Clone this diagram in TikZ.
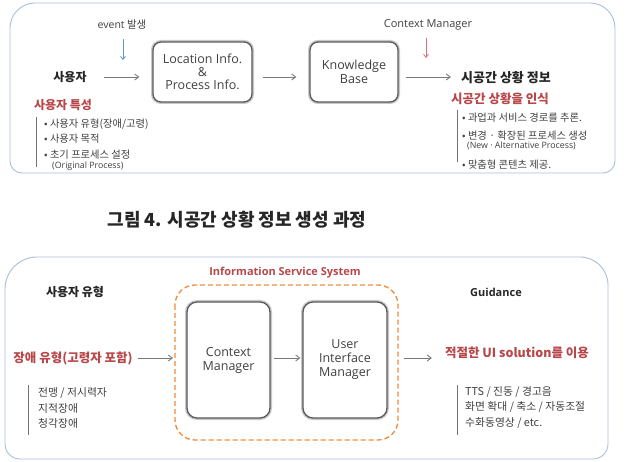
\documentclass[tikz,border=0pt]{standalone}
\usepackage{fontspec}
\setmainfont{Noto Sans CJK KR}
\newfontfamily\lat{Open Sans}
\usetikzlibrary{arrows.meta}
\definecolor{frameblue}{HTML}{A9BEDA}
\definecolor{redt}{HTML}{B8474A}
\definecolor{orangeD}{HTML}{F08A3C}
\definecolor{arrgray}{HTML}{7A7A7A}
\definecolor{evblue}{HTML}{5B9BD5}
\definecolor{cmpink}{HTML}{E07078}
\definecolor{txtgray}{HTML}{3F3F3F}
\tikzset{
  frame/.style={draw=frameblue, line width=0.9pt},
  ibox/.style={draw=black!65, line width=1.3pt, rounded corners=8pt, fill=white,
    preaction={draw=black!22, line width=4pt}, align=center, inner sep=0pt,
    font=\lat\fontsize{12.5}{15}\selectfont, text=black!75},
  arr/.style={draw=arrgray, line width=0.9pt, -{Straight Barb[length=4pt,width=6pt]}},
  head/.style={font=\bfseries\fontsize{12}{13}\selectfont, text=black!85, inner sep=0pt},
  redhead/.style={font=\bfseries\fontsize{12}{13}\selectfont, text=redt, inner sep=0pt},
  item/.style={font=\fontsize{10.3}{11}\selectfont, text=txtgray, inner sep=0pt, anchor=west},
  bitem/.style={font=\fontsize{10.8}{11}\selectfont, text=txtgray, inner sep=0pt, anchor=west},
  vbar/.style={draw=black!55, line width=0.9pt},
}
\begin{document}
\begin{tikzpicture}[x=1pt,y=-1pt]
\useasboundingbox (0,0) rectangle (640,462);
% ---------- top frame ----------
\draw[frame] (10,28) arc[start angle=180,end angle=270,radius=25] -- (590,3)
  arc[start angle=270,end angle=360,radius=25] -- (615,161)
  arc[start angle=0,end angle=90,radius=12] -- (22,173)
  arc[start angle=90,end angle=180,radius=12] -- cycle;

\node[ibox, minimum width=99pt, minimum height=60pt] (loc) at (202.5,72) {Location Info.\\[-2pt]\&\\[-2pt]Process Info.};
\node[ibox, minimum width=88pt, minimum height=60pt] (kb) at (354,72) {Knowledge\\[-1pt]Base};

\node[head] (user) at (70,77) {사용자};
\node[font=\fontsize{10.5}{13}\selectfont, text=black!75, inner sep=0pt] (event) at (122,25) {{\lat event} 발생};
\coordinate (evtip) at (123,60);
\draw[draw=evblue, line width=0.8pt, -{Straight Barb[length=3pt,width=5pt]}] (event.south -| evtip) ++(0,9) -- (evtip);

\node[font=\lat\fontsize{11}{13}\selectfont, text=black!75, inner sep=0pt] (cm) at (428,25) {Context Manager};
\coordinate (cmtip) at (426,58);
\draw[draw=cmpink, line width=0.8pt, -{Straight Barb[length=3pt,width=5pt]}] (cm.south -| cmtip) ++(0,7) -- (cmtip);

\node[head, font=\bfseries\fontsize{13}{14}\selectfont] (info) at (506,78) {시공간 상황 정보};

\draw[arr, shorten <=17pt, shorten >=13pt] (user.east) -- (loc.west |- user.east);
\draw[arr, shorten <=10pt, shorten >=13pt] (loc.east |- user.east) -- (kb.west |- user.east);
\draw[arr, shorten <=7pt, shorten >=10pt] (kb.east |- user.east) -- (info.west |- user.east);

\node[redhead] (trait) at (63,105) {사용자 특성};
\draw[vbar] (36,117) -- (36,167);
\node[item] (t1) at (44,124) {• 사용자 유형(장애/고령)};
\node[item] (t2) at (44,139) {• 사용자 목적};
\node[item] (t3) at (44,155) {• 초기 프로세스 설정};
\node[item, font=\lat\fontsize{8.8}{10}\selectfont] (t4) at (52,166) {(Original Process)};

\node[redhead, font=\bfseries\fontsize{12.5}{14}\selectfont] (recog) at (500,99) {시공간 상황을 인식};
\draw[vbar] (457,110) -- (457,162);
\node[item] (r1) at (462,118) {• 과업과 서비스 경로를 추론.};
\node[item] (r2) at (462,136) {• 변경 · 확장된 프로세스 생성};
\node[item, font=\lat\fontsize{8.8}{10}\selectfont] (r3) at (467,146) {(New · Alternative Process)};
\node[item] (r4) at (462,165) {• 맞춤형 콘텐츠 제공.};

% ---------- caption ----------
\node[font=\bfseries\fontsize{18}{20}\selectfont, text=black!85, inner sep=0pt] (cap) at (237,220) {그림 4. 시공간 상황 정보 생성 과정};

% ---------- bottom frame ----------
\draw[frame] (5,289) arc[start angle=180,end angle=270,radius=32] -- (580,257)
  arc[start angle=270,end angle=360,radius=28] -- (608,444)
  arc[start angle=0,end angle=90,radius=15] -- (20,459)
  arc[start angle=90,end angle=180,radius=15] -- cycle;

\draw[draw=orangeD, line width=1.3pt, dash pattern=on 5pt off 3pt, rounded corners=20pt] (175,285) rectangle (398,440);
\node[font=\lat\bfseries\fontsize{11}{12}\selectfont, text=redt, inner sep=0pt] (iss) at (285,273) {Information Service System};

\node[ibox, rounded corners=10pt, minimum width=83pt, minimum height=116pt] (ctx) at (228.5,360) {Context\\[-1pt]Manager};
\node[ibox, rounded corners=10pt, minimum width=84pt, minimum height=116pt] (uim) at (345,360) {User\\[-1pt]Interface\\[-1pt]Manager};

\node[head] (utype) at (75,292) {사용자 유형};
\node[redhead, font=\bfseries\fontsize{12.5}{14}\selectfont] (dtype) at (73,358) {장애 유형(고령자 포함)};
\node[font=\lat\bfseries\fontsize{11}{12}\selectfont, text=black!85, inner sep=0pt] (guid) at (496,292) {Guidance};
\node[redhead, font=\bfseries\fontsize{12.5}{14}\selectfont] (uisol) at (517,353) {적절한 UI solution를 이용};

\draw[arr, shorten <=5pt, shorten >=2pt] (dtype.east) -- (dtype.east -| 175,0) ;
\draw[arr, shorten <=3pt, shorten >=2pt] (ctx.east |- dtype.east) -- (uim.west |- dtype.east);
\draw[arr, shorten <=16pt, shorten >=13pt] (uim.east |- dtype.east) -- (uisol.west |- dtype.east);

\draw[vbar] (28,385) -- (28,435);
\node[bitem] (d1) at (38,393) {전맹 / 저시력자};
\node[bitem] (d2) at (38,408) {지적장애};
\node[bitem] (d3) at (38,423) {청각장애};

\draw[vbar] (457,385) -- (457,435);
\node[bitem] (g1) at (465,392) {TTS / 진동 / 경고음};
\node[bitem] (g2) at (465,407) {화면 확대 / 축소 / 자동조절};
\node[bitem] (g3) at (465,423) {수화동영상 / etc.};
\end{tikzpicture}
\end{document}
